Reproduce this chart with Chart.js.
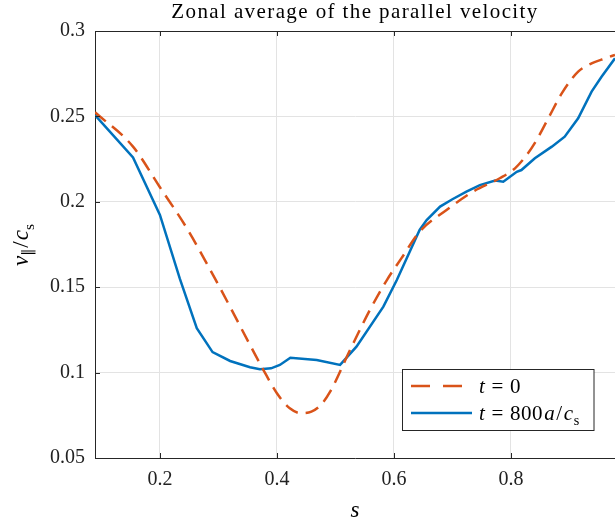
<!DOCTYPE html>
<html>
<head>
<meta charset="utf-8">
<script src="https://cdn.jsdelivr.net/npm/chart.js@4"></script>
<style>
  html, body { margin: 0; padding: 0; background: #fff; }
  #wrap { width: 615px; height: 522px; }
</style>
</head>
<body>
<div id="wrap"><canvas id="chart" width="615" height="522"></canvas></div>
<script>
// valores
const sInicial = [0.089, 0.154, 0.2, 0.246, 0.303, 0.354, 0.377, 0.4, 0.422, 0.442, 0.459, 0.475, 0.491, 0.525, 0.559, 0.588, 0.613, 0.644, 0.69, 0.735, 0.781, 0.807, 0.827, 0.844, 0.864, 0.887, 0.915, 0.938, 0.961, 0.978];
const vInicial = [0.2524, 0.2323, 0.2085, 0.1845, 0.1494, 0.1162, 0.1015, 0.0879, 0.0791, 0.0762, 0.0771, 0.081, 0.0888, 0.1132, 0.1367, 0.1542, 0.167, 0.1825, 0.1952, 0.2059, 0.2138, 0.2196, 0.2274, 0.2362, 0.2489, 0.2635, 0.2762, 0.281, 0.284, 0.286];

const sFinal = [0.089, 0.154, 0.2, 0.234, 0.263, 0.29, 0.32, 0.354, 0.371, 0.39, 0.405, 0.423, 0.468, 0.508, 0.536, 0.582, 0.605, 0.644, 0.656, 0.679, 0.7, 0.724, 0.747, 0.773, 0.787, 0.81, 0.818, 0.841, 0.87, 0.892, 0.915, 0.938, 0.955, 0.978];
const vFinal = [0.2508, 0.226, 0.1923, 0.155, 0.126, 0.112, 0.1068, 0.1031, 0.102, 0.1025, 0.1045, 0.1087, 0.1074, 0.1045, 0.1152, 0.1386, 0.1542, 0.1835, 0.1893, 0.1972, 0.2015, 0.2059, 0.2098, 0.2124, 0.2118, 0.2176, 0.2186, 0.2255, 0.2323, 0.2381, 0.2489, 0.2645, 0.2732, 0.284];

const xTicks = [0.2, 0.4, 0.6, 0.8];
const yTicks = [0.05, 0.1, 0.15, 0.2, 0.25, 0.3];

const VERMELHO = '#D95319';
const AZUL = '#0072BD';
const EIXO = '#262626';
const SERIF = '"Liberation Serif", "DejaVu Serif", serif';

function pontos(xs, ys) {
  return xs.map((x, i) => ({ x: x, y: ys[i] }));
}

// desenha texto com partes em itálico / subscrito (gap = espaço extra antes)
function textoRico(ctx, partes, x, y, tam, alinhar) {
  const medir = p => {
    ctx.font = (p.it ? 'italic ' : '') + (p.sub ? tam * 0.68 : tam) + 'px ' + SERIF;
    return ctx.measureText(p.t).width + (p.gap || 0);
  };
  const total = partes.reduce((a, p) => a + medir(p), 0);
  let cx = alinhar === 'center' ? x - total / 2 : x;
  ctx.textBaseline = 'alphabetic';
  ctx.textAlign = 'left';
  partes.forEach(p => {
    const w = medir(p);
    ctx.fillText(p.t, cx + (p.gap || 0), y + (p.sub ? tam * 0.24 : 0));
    cx += w;
  });
}

const moldura = {
  id: 'moldura',
  afterDraw(chart) {
    const ctx = chart.ctx;
    const a = chart.chartArea;
    const xs = chart.scales.x, ys = chart.scales.y;
    ctx.save();
    ctx.strokeStyle = EIXO;
    ctx.lineWidth = 1;
    ctx.beginPath();
    ctx.moveTo(a.left, a.top + 0.5);
    ctx.lineTo(a.right, a.top + 0.5);
    xTicks.forEach(v => {
      const px = Math.round(xs.getPixelForValue(v)) + 0.5;
      ctx.moveTo(px, a.bottom); ctx.lineTo(px, a.bottom - 5);
      ctx.moveTo(px, a.top); ctx.lineTo(px, a.top + 5);
    });
    yTicks.forEach(v => {
      const py = Math.round(ys.getPixelForValue(v)) + 0.5;
      ctx.moveTo(a.left, py); ctx.lineTo(a.left + 5, py);
    });
    ctx.stroke();

    ctx.fillStyle = '#000';
    // título
    ctx.font = '21px ' + SERIF;
    ctx.letterSpacing = '1.4px';
    ctx.textAlign = 'center';
    ctx.textBaseline = 'alphabetic';
    ctx.fillText('Zonal average of the parallel velocity', (a.left + a.right) / 2, 18);
    ctx.letterSpacing = '0px';

    // rótulo x
    textoRico(ctx, [{ t: 's', it: true }], (a.left + a.right) / 2, 517, 23, 'center');

    // rótulo y
    ctx.save();
    ctx.translate(28, 245);
    ctx.rotate(-Math.PI / 2);
    textoRico(ctx, [
      { t: 'v', it: true }, { t: '\u2225', sub: true }, { t: '/', gap: 1 },
      { t: 'c', it: true, gap: 1 }, { t: 's', sub: true }
    ], 0, 0, 23, 'center');
    ctx.restore();

    // legenda
    const lx = 402.5, ly = 369.5, lw = 191.5, lh = 61;
    ctx.fillStyle = '#fff';
    ctx.fillRect(lx, ly, lw, lh);
    ctx.strokeStyle = EIXO;
    ctx.strokeRect(lx, ly, lw, lh);

    ctx.lineWidth = 2.5;
    ctx.strokeStyle = VERMELHO;
    ctx.setLineDash([19, 13]);
    ctx.beginPath(); ctx.moveTo(411, 386); ctx.lineTo(472, 386); ctx.stroke();
    ctx.setLineDash([]);
    ctx.strokeStyle = AZUL;
    ctx.beginPath(); ctx.moveTo(411, 413); ctx.lineTo(472, 413); ctx.stroke();

    ctx.fillStyle = '#000';
    ctx.letterSpacing = '0.6px';
    textoRico(ctx, [{ t: 't', it: true }, { t: '=', gap: 6 }, { t: '0', gap: 6 }], 479, 393, 21, 'left');
    textoRico(ctx, [
      { t: 't', it: true }, { t: '=', gap: 6 }, { t: '800', gap: 6 }, { t: 'a', it: true, gap: 1 },
      { t: '/', gap: 1 }, { t: 'c', it: true, gap: 1 }, { t: 's', sub: true }
    ], 479, 420, 21, 'left');
    ctx.letterSpacing = '0px';
    ctx.restore();
  }
};

new Chart(document.getElementById('chart'), {
  type: 'line',
  data: {
    datasets: [{
      label: 't = 0',
      data: pontos(sInicial, vInicial),
      borderColor: VERMELHO,
      borderWidth: 2.5,
      borderDash: [14, 8],
      pointRadius: 0,
      cubicInterpolationMode: 'monotone',
      fill: false
    }, {
      label: 't = 800a/cs',
      data: pontos(sFinal, vFinal),
      borderColor: AZUL,
      borderWidth: 2.5,
      pointRadius: 0,
      tension: 0,
      fill: false
    }]
  },
  options: {
    responsive: false,
    animation: false,
    layout: { padding: { top: 31, right: 0, left: 0, bottom: 0 } },
    plugins: {
      legend: { display: false },
      title: { display: false },
      tooltip: { enabled: false }
    },
    scales: {
      x: {
        type: 'linear',
        min: 0.089,
        max: 0.978,
        afterBuildTicks: s => { s.ticks = xTicks.map(v => ({ value: v })); },
        afterFit: s => { s.height = 64; },
        grid: { color: '#e3e3e3', lineWidth: 1, drawTicks: false },
        border: { color: EIXO, width: 1 },
        ticks: {
          color: '#222',
          padding: 10,
          font: { family: SERIF, size: 20 },
          callback: v => String(+v.toFixed(2))
        }
      },
      y: {
        min: 0.05,
        max: 0.3,
        afterBuildTicks: s => { s.ticks = yTicks.map(v => ({ value: v })); },
        afterFit: s => { s.width = 95; },
        grid: { color: '#e3e3e3', lineWidth: 1, drawTicks: false },
        border: { color: EIXO, width: 1 },
        ticks: {
          color: '#222',
          padding: 10,
          font: { family: SERIF, size: 20 },
          callback: v => String(+v.toFixed(2))
        }
      }
    }
  },
  plugins: [moldura]
});
</script>
</body>
</html>
